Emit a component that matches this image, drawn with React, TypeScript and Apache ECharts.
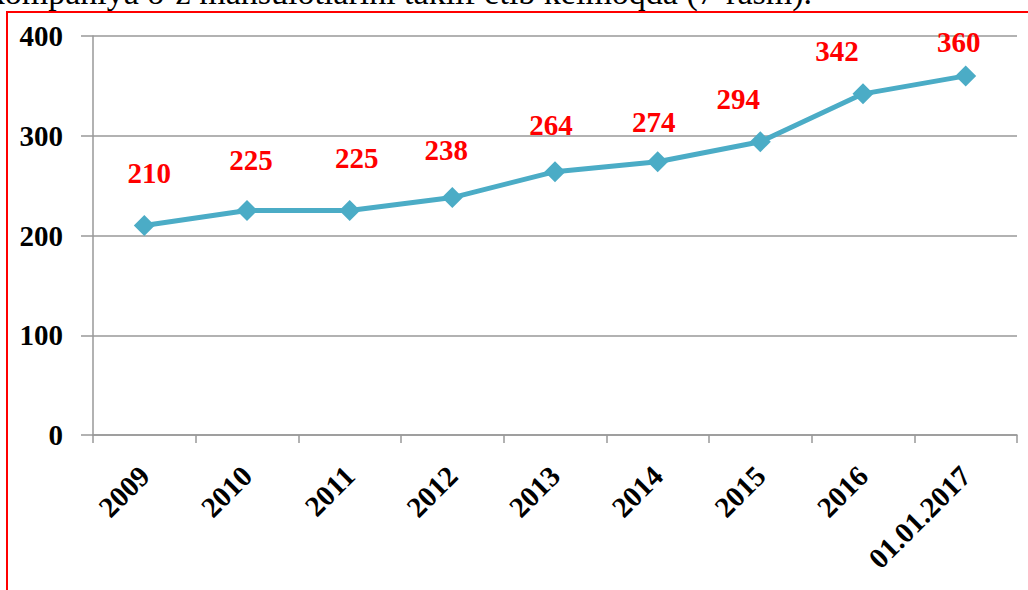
import React, { useEffect, useRef } from "react";
import * as echarts from "echarts";

const categories = ["2009", "2010", "2011", "2012", "2013", "2014", "2015", "2016", "01.01.2017"];
const values = [210, 225, 225, 238, 264, 274, 294, 342, 360];
const yTicks = [0, 100, 200, 300, 400];
const captionText = "kompaniya o‘z mahsulotlarini taklif etib kelmoqda (7-rasm).";

// label offsets (style only) relative to each point
const labelOffsets: [number, number][] = [
  [5, -53], [4, -51], [7, -53], [-6, -48], [-4, -47], [-4, -40], [-22, -43], [-26, -43], [-7, -34],
];

const SERIF = "'Liberation Serif', 'DejaVu Serif', serif";

export default function App() {
  const ref = useRef<HTMLDivElement>(null);
  useEffect(() => {
    if (!ref.current) return;
    const chart = echarts.init(ref.current, null, { renderer: "svg" });
    chart.setOption({
      animation: false,
      backgroundColor: "#ffffff",
      grid: { left: 93, right: 11, top: 36, bottom: 155, containLabel: false },
      xAxis: {
        type: "category",
        data: categories,
        boundaryGap: true,
        axisLine: { show: true, lineStyle: { color: "#999", width: 1.5 } },
        axisTick: { show: true, length: 8, lineStyle: { color: "#999", width: 1.5 }, alignWithLabel: false },
        axisLabel: {
          rotate: 45,
          interval: 0,
          margin: 36,
          color: "#000",
          fontFamily: SERIF,
          fontWeight: "bold",
          fontSize: 29,
        },
        splitLine: { show: false },
      },
      yAxis: {
        type: "value",
        min: yTicks[0],
        max: yTicks[yTicks.length - 1],
        interval: 100,
        axisLine: { show: true, lineStyle: { color: "#999", width: 1.5 } },
        axisTick: { show: true, inside: false, length: 12, lineStyle: { color: "#999", width: 1.5 } },
        axisLabel: {
          margin: 30,
          color: "#000",
          fontFamily: SERIF,
          fontWeight: "bold",
          fontSize: 29,
        },
        splitLine: { show: true, lineStyle: { color: "#999", width: 1.5 } },
      },
      series: [
        {
          type: "line",
          data: values.map((v, i) => ({
            value: v,
            label: { offset: labelOffsets[i] },
          })),
          symbol: "diamond",
          symbolSize: 21,
          lineStyle: { color: "#4BACC6", width: 5 },
          itemStyle: { color: "#4BACC6" },
          label: {
            show: true,
            position: "inside",
            align: "center",
            verticalAlign: "middle",
            color: "#FF0000",
            fontFamily: SERIF,
            fontWeight: "bold",
            fontSize: 29,
          },
        },
      ],
      graphic: [
        {
          type: "rect",
          shape: { x: 7, y: 12, width: 1200, height: 800 },
          style: { fill: "none", stroke: "#FF0000", lineWidth: 2 },
          z: 100,
        },
        {
          type: "text",
          x: 812,
          y: 9,
          style: {
            text: captionText,
            align: "right",
            verticalAlign: "bottom",
            fontFamily: SERIF,
            fontSize: 34,
            fill: "#000",
          },
          z: 100,
        },
      ],
    });
    return () => chart.dispose();
  }, []);
  return (
    <div
      ref={ref}
      style={{ position: "fixed", left: 0, top: 0, width: 1028, height: 590 }}
    />
  );
}
